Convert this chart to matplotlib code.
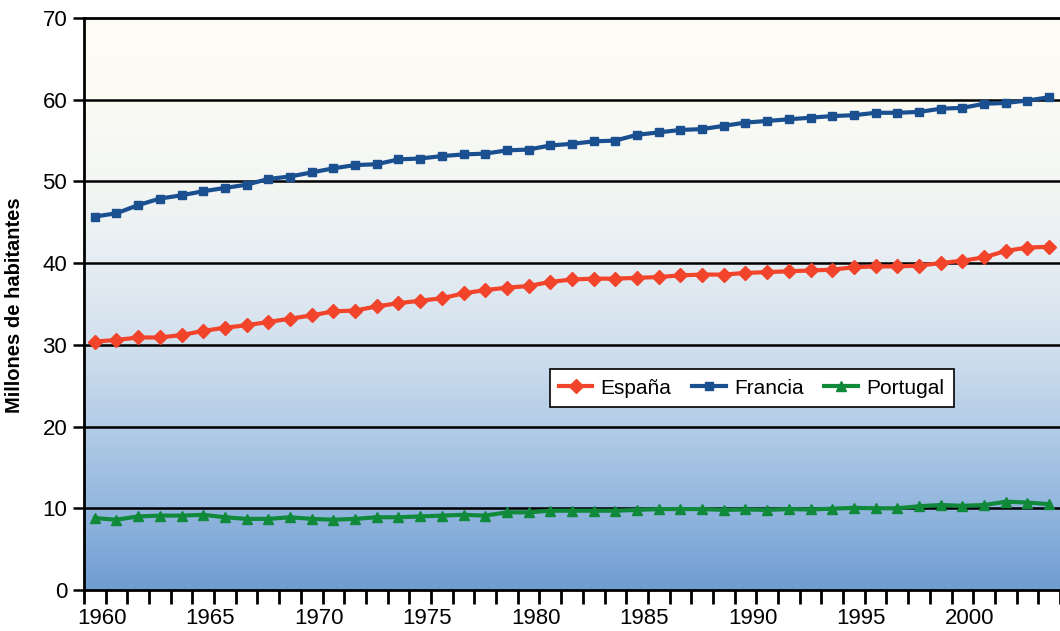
import numpy as np
import matplotlib.pyplot as plt
import matplotlib.transforms as mtransforms
from matplotlib.colors import LinearSegmentedColormap

# Years and population (millions)
years = list(range(1960, 2005))

espana = [30.4, 30.6, 30.9, 30.9, 31.2, 31.7, 32.1, 32.4, 32.8, 33.2,
          33.6, 34.1, 34.2, 34.7, 35.1, 35.4, 35.7, 36.3, 36.7, 37.0,
          37.2, 37.7, 38.0, 38.1, 38.1, 38.2, 38.3, 38.5, 38.6, 38.6,
          38.8, 38.9, 39.0, 39.1, 39.2, 39.5, 39.6, 39.6, 39.7, 40.0,
          40.3, 40.7, 41.5, 41.9, 42.0]

francia = [45.7, 46.1, 47.1, 47.9, 48.3, 48.8, 49.2, 49.6, 50.3, 50.6,
           51.1, 51.6, 52.0, 52.1, 52.7, 52.8, 53.1, 53.3, 53.4, 53.8,
           53.9, 54.4, 54.6, 54.9, 55.0, 55.7, 56.0, 56.3, 56.4, 56.8,
           57.2, 57.4, 57.6, 57.8, 58.0, 58.1, 58.4, 58.4, 58.5, 58.9,
           59.0, 59.5, 59.6, 59.9, 60.3]

portugal = [8.8, 8.6, 9.0, 9.1, 9.1, 9.2, 8.9, 8.7, 8.7, 8.9,
            8.7, 8.6, 8.7, 8.9, 8.9, 9.0, 9.1, 9.2, 9.1, 9.5,
            9.5, 9.7, 9.7, 9.7, 9.7, 9.8, 9.9, 9.9, 9.9, 9.8,
            9.85, 9.8, 9.9, 9.85, 9.95, 10.05, 10.0, 10.0, 10.25, 10.4,
            10.3, 10.4, 10.8, 10.7, 10.5]

year_labels = [1960, 1965, 1970, 1975, 1980, 1985, 1990, 1995, 2000]
y_ticks = [0, 10, 20, 30, 40, 50, 60, 70]

plt.rcParams['font.family'] = ['Liberation Sans', 'DejaVu Sans']

fig = plt.figure(figsize=(10.6, 6.31), dpi=100)
ax = fig.add_axes([0.0792, 0.065, 0.9208, 0.9065])

# Background: cream at the top fading into blue at the bottom
bg = LinearSegmentedColormap.from_list('bg', [
    (0.0, '#6f9dd2'), (0.14, '#92b6de'), (0.29, '#b4cde7'),
    (0.43, '#d2e0ee'), (0.57, '#e6edf2'), (0.71, '#f3f6f3'),
    (0.86, '#fbfbf4'), (1.0, '#fdfdf6')])
grad = np.linspace(0, 1, 256).reshape(-1, 1)
ax.imshow(grad, cmap=bg, origin='lower', aspect='auto',
          extent=[0, 1, 0, 1], transform=ax.transAxes, zorder=0)

# Horizontal grid lines
for v in y_ticks[1:-1]:
    ax.axhline(v, color='black', linewidth=1.8, zorder=1)

ax.plot(years, espana, color='#f2432b', linewidth=3, marker='D',
        markersize=7.5, label='España', zorder=3)
ax.plot(years, francia, color='#1a4f90', linewidth=3, marker='s',
        markersize=6, label='Francia', zorder=3)
ax.plot(years, portugal, color='#11893a', linewidth=3, marker='^',
        markersize=7, label='Portugal', zorder=3)

ax.set_xlim(1959.5, 2004.37)
ax.set_ylim(0, 70)

# Year labels under the points, tick marks between the years
ax.set_xticks(year_labels)
ax.set_xticklabels([str(y) for y in year_labels])
ax.set_xticks(np.arange(1959.5, 2005, 1.0), minor=True)
ax.tick_params(axis='x', which='major', length=0, pad=13, labelsize=16)
ax.tick_params(axis='x', which='minor', length=10, width=2, direction='out')
shift = mtransforms.ScaledTranslation(7 / 100, 0, fig.dpi_scale_trans)
for lbl in ax.get_xticklabels():
    lbl.set_transform(lbl.get_transform() + shift)

ax.set_yticks(y_ticks)
ax.tick_params(axis='y', length=8, width=1.8, direction='out', pad=4,
               labelsize=16)

for side in ['left', 'bottom', 'top']:
    ax.spines[side].set_linewidth(2)
    ax.spines[side].set_color('black')
ax.spines['right'].set_visible(False)

fig.text(15 / 1060, 1 - 305 / 631, 'Millones de habitantes', rotation=90,
         ha='center', va='center', fontsize=14.5, fontweight='bold')

leg = ax.legend(loc='center', bbox_to_anchor=(0.684, 0.353), ncol=3,
                fontsize=15, frameon=True, fancybox=False, framealpha=1,
                edgecolor='black', handlelength=1.6, handletextpad=0.4,
                columnspacing=1.0, borderpad=0.45)
leg.get_frame().set_linewidth(1.2)

plt.savefig('out.png', dpi=100)
